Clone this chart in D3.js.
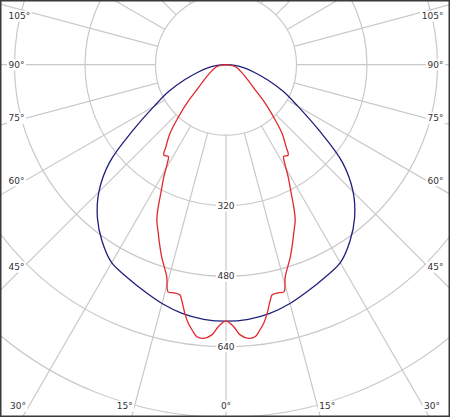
<!DOCTYPE html>
<html>
<head>
<meta charset="utf-8">
<script src="https://cdn.jsdelivr.net/npm/d3@7"></script>
<style>
html,body{margin:0;padding:0;background:#fff;}
svg{display:block;}
</style>
</head>
<body>
<div id="chart"></div>
<script>
// ---------- data ----------
const gridValues = [160, 320, 480, 640, 800, 960];
const ringLabels = [320, 480, 640];
const spokeAngles = d3.range(-180, 180, 15);
const angleLabels = [0, 15, 30, 45, 60, 75, 90, 105];

// C0-C180 plane (blue), angle in degrees from nadir, negative = left
const blueAngles = [-90,-85,-80,-75,-70,-65,-60,-55,-50,-45,-40,-35,-30,-25,-20,-15,-10,-5,0,5,10,15,20,25,30,35,40,45,50,55,60,65,70,75,80,85,90];
const blueValues = [0,20,42,66,100,143,188,255,345,408,454,490,519,532,546,561,573,580,582,580,573,561,546,532,519,490,454,408,345,255,188,143,100,66,42,20,0];

// C90-C270 plane (red)
const redAngles = [-90,-77.9,-66,-58.1,-49.2,-45.5,-41.7,-39.2,-36.2,-34.5,-32.1,-30.8,-29,-26.9,-25.5,-24,-21.9,-20.9,-18.5,-15.6,-14.3,-12.8,-11.3,-10.7,-10,-9.4,-8.3,-7.2,-6.1,-4.7,-3,-1.7,
  0,1.7,3,4.7,6.1,7.2,8.3,9.4,10,10.7,11.3,12.8,14.3,15.6,18.5,20.9,21.9,24,25.5,26.9,29,30.8,32.1,34.5,36.2,39.2,41.7,45.5,49.2,58.1,66,77.9,90];
const redValues = [0,22,36,52,88,125,168,201,231,249,246,260,291,327,357,386,412,426,460,500,532,531,533,543,558,572,593,608,621,623,614,595,
  582,595,614,623,621,608,593,572,558,543,533,531,532,500,460,426,412,386,357,327,291,260,246,249,231,201,168,125,88,52,36,22,0];

// ---------- layout ----------
const W = 450, H = 417;
const cx = 226, cy = 64.7;
const r = d3.scaleLinear().domain([0, 640]).range([0, 282]);
const gridColor = "#c9c9c9";
const textColor = "#333";
const font = "DejaVu Sans, Verdana, sans-serif";

const svg = d3.select("#chart").append("svg").attr("width", W).attr("height", H);
svg.append("defs").append("clipPath").attr("id", "clip")
  .append("rect").attr("x", 1).attr("y", 1).attr("width", W - 2).attr("height", H - 2);

const g = svg.append("g").attr("clip-path", "url(#clip)");
const c = g.append("g").attr("transform", `translate(${cx},${cy})`);

// circles
c.selectAll("circle.grid").data(gridValues).join("circle")
  .attr("class", "grid").attr("r", d => r(d))
  .attr("fill", "none").attr("stroke", gridColor).attr("stroke-width", 1.2);

// spokes (from first ring outward)
const toRad = d => d * Math.PI / 180;
c.selectAll("line.spoke").data(spokeAngles).join("line")
  .attr("class", "spoke")
  .attr("x1", d => r(gridValues[0]) * Math.sin(toRad(d)))
  .attr("y1", d => r(gridValues[0]) * Math.cos(toRad(d)))
  .attr("x2", d => r(1400) * Math.sin(toRad(d)))
  .attr("y2", d => r(1400) * Math.cos(toRad(d)))
  .attr("stroke", gridColor).attr("stroke-width", 1.2);

// curves
const radial = d3.lineRadial()
  .angle(d => Math.PI - toRad(d[0]))
  .radius(d => r(d[1]))
  .curve(d3.curveCatmullRom.alpha(0.5));

const blueData = blueAngles.map((a, i) => [a, blueValues[i]]);
const redData = redAngles.map((a, i) => [a, redValues[i]]);

c.append("path").datum(blueData).attr("d", radial)
  .attr("fill", "none").attr("stroke", "#1f1f7c").attr("stroke-width", 1.3);
c.append("path").datum(redData).attr("d", radial)
  .attr("fill", "none").attr("stroke", "#e2272e").attr("stroke-width", 1.3);

// helper to add label with white background
function addLabel(parent, x, y, txt, anchor) {
  const grp = parent.append("g");
  const t = grp.append("text").attr("x", x).attr("y", y).attr("dy", "0.35em")
    .attr("text-anchor", anchor).attr("font-family", font).attr("font-size", 9)
    .attr("fill", textColor).text(txt);
  const b = t.node().getBBox();
  grp.insert("rect", "text").attr("x", b.x - 1.5).attr("y", b.y - 0.5)
    .attr("width", b.width + 3).attr("height", b.height + 1).attr("fill", "#fff");
}

// ring value labels along nadir
ringLabels.forEach(v => addLabel(svg, cx, cy + r(v), String(v), "middle"));

// angle labels at frame
const xL = 17, xR = 2 * cx - 17, yB = 406;
angleLabels.forEach(a => {
  [-1, 1].forEach(side => {
    if (a === 0 && side === 1) return;
    const s = Math.sin(toRad(a)), co = Math.cos(toRad(a));
    const tSide = s > 1e-9 ? (cx - xL) / s : Infinity;
    const tBot = co > 1e-9 ? (yB - cy) / co : Infinity;
    const txt = a + "°";
    if (tBot <= tSide) {
      let x = cx + side * (s * tBot + (a === 0 ? 0 : 9.5 / co));
      x = Math.max(18, Math.min(W - 18, x));
      addLabel(svg, x, yB, txt, "middle");
    } else {
      let y = cy + co * tSide - 9.5 * co;
      y = Math.max(16, y);
      if (side < 0) addLabel(svg, 8.5, y, txt, "start");
      else addLabel(svg, W - 6.5, y, txt, "end");
    }
  });
});

// frame
svg.append("rect").attr("x", 0.75).attr("y", 0.75).attr("width", W - 1.5).attr("height", H - 1.5)
  .attr("fill", "none").attr("stroke", "#3a3a3a").attr("stroke-width", 1.5);
</script>
</body>
</html>
